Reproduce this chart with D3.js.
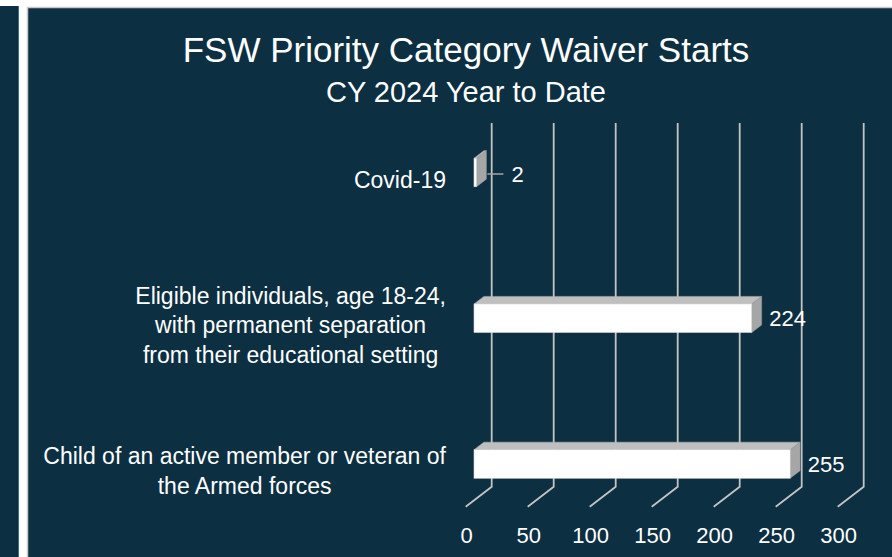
<!DOCTYPE html>
<html>
<head>
<meta charset="utf-8">
<script src="https://cdn.jsdelivr.net/npm/d3@7"></script>
<style>
  html, body { margin: 0; padding: 0; background: #ffffff; }
  svg { display: block; }
  text { font-family: "Liberation Sans", Arial, sans-serif; fill: #ffffff; }
</style>
</head>
<body>
<svg id="chart" width="892" height="557"></svg>
<script>
// ---- data ----
const titleText = "FSW Priority Category Waiver Starts";
const subtitleText = "CY 2024 Year to Date";
const categories = ["Covid-19", "Eligible individuals", "Child of an active member or veteran"];
const categoryLines = [
  ["Covid-19"],
  ["Eligible individuals, age 18-24,", "with permanent separation", "from their educational setting"],
  ["Child of an active member or veteran of", "the Armed forces"]
];
const values = [2, 224, 255];
const ticks = [0, 50, 100, 150, 200, 250, 300];

// ---- layout ----
const W = 892, H = 557;
const bg = "#0c2f42";
const svg = d3.select("#chart");

// frame
svg.append("rect").attr("x", 0).attr("y", 6).attr("width", 19).attr("height", H - 6).attr("fill", bg);
svg.append("line").attr("x1", 18.5).attr("x2", 18.5).attr("y1", 6).attr("y2", H).attr("stroke", "#3f6f8a").attr("stroke-width", 1);
svg.append("rect").attr("x", 27).attr("y", 7).attr("width", W - 27).attr("height", H - 7).attr("fill", bg);
svg.append("path").attr("d", `M27.5,${H} L27.5,7.5 L${W},7.5`).attr("fill", "none").attr("stroke", "#c9c9c9").attr("stroke-width", 1.5);

// titles
svg.append("text").attr("x", 466).attr("y", 62).attr("text-anchor", "middle")
  .style("font-size", "35px").text(titleText);
svg.append("text").attr("x", 466).attr("y", 102).attr("text-anchor", "middle")
  .style("font-size", "29px").text(subtitleText);

// scales (back wall)
const x = d3.scaleLinear().domain([0, 300]).range([491.7, 863.7]);
const y = d3.scalePoint().domain(categories).range([172.5, 464]); // bar front-face centres
const wallTop = 123, floorY = 486.7;
const depth = { dx: -26, dy: 20 };        // back wall -> front of floor
const barFront = { dx: -17.7, dy: 13.6 }; // back wall -> bar front face
const barDepth = { dx: 9.9, dy: -7.6 };   // bar front -> bar back
const barH = 28.5;

// gridlines + floor lines
const grid = svg.append("g");
ticks.forEach(t => {
  grid.append("path")
    .attr("d", `M${x(t)},${wallTop} L${x(t)},${floorY} L${x(t) + depth.dx},${floorY + depth.dy}`)
    .attr("fill", "none").attr("stroke", "#c4c4c4").attr("stroke-width", 1.8);
});

// tick labels
svg.append("g").selectAll("text").data(ticks).join("text")
  .attr("x", d => x(d) + depth.dx + 1)
  .attr("y", 543)
  .attr("text-anchor", "middle")
  .style("font-size", "22px")
  .text(d => d);

// bars
const bars = svg.append("g");
categories.forEach((c, i) => {
  const v = values[i];
  const yc = y(c);
  const fx0 = x(0) + barFront.dx, fx1 = x(v) + barFront.dx;
  const yt = yc - barH / 2, yb = yc + barH / 2;
  const g = bars.append("g");
  // top face
  g.append("path")
    .attr("d", `M${fx0},${yt} L${fx1},${yt} L${fx1 + barDepth.dx},${yt + barDepth.dy} L${fx0 + barDepth.dx},${yt + barDepth.dy} Z`)
    .attr("fill", "#bfbfbf").attr("stroke", "#b5b5b5").attr("stroke-width", 0.5);
  // right face
  g.append("path")
    .attr("d", `M${fx1},${yt} L${fx1 + barDepth.dx},${yt + barDepth.dy} L${fx1 + barDepth.dx},${yb + barDepth.dy} L${fx1},${yb} Z`)
    .attr("fill", "#a6a6a6").attr("stroke", "#9c9c9c").attr("stroke-width", 0.5);
  // front face
  g.append("rect")
    .attr("x", fx0).attr("y", yt).attr("width", Math.max(fx1 - fx0, 0)).attr("height", barH)
    .attr("fill", "#ffffff").attr("stroke", "#d9d9d9").attr("stroke-width", 0.6);

  const endX = fx1 + barDepth.dx;
  if (endX - fx0 < 20) {
    g.append("line").attr("x1", endX + 1).attr("x2", endX + 17).attr("y1", yc + 1.5).attr("y2", yc + 1.5)
      .attr("stroke", "#a6a6a6").attr("stroke-width", 1.5);
    g.append("text").attr("x", endX + 25).attr("y", yc + 9).style("font-size", "22px").text(v);
  } else {
    g.append("text").attr("x", endX + 7.6).attr("y", yc + 8).style("font-size", "22px").text(v);
  }
});

// category labels
const lineH = 29.5;
categories.forEach((c, i) => {
  const lines = categoryLines[i];
  const g = svg.append("g");
  const yc = y(c) + 7;
  const ts = lines.map((l, j) => g.append("text")
    .attr("y", yc + (j - (lines.length - 1) / 2) * lineH + 8.2)
    .attr("text-anchor", "middle")
    .style("font-size", "23px")
    .text(l));
  const maxW = d3.max(ts, t => t.node().getComputedTextLength());
  ts.forEach(t => t.attr("x", 446 - maxW / 2));
});
</script>
</body>
</html>
